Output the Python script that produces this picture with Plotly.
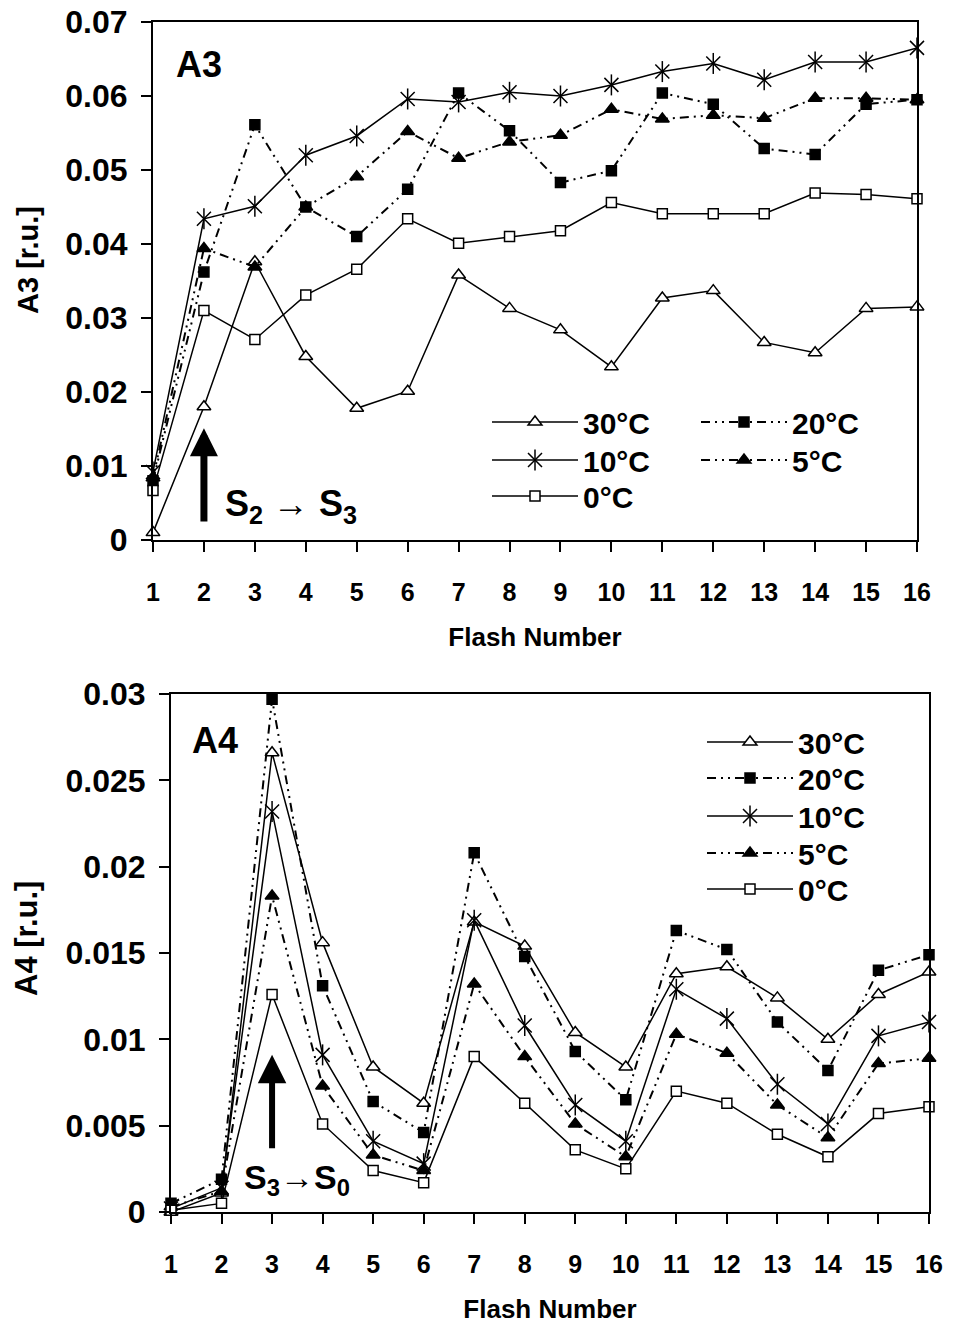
import plotly.graph_objects as go

W, H = 954, 1324

flash = list(range(1, 17))
labels = ["30°C", "20°C", "10°C", "5°C", "0°C"]

a3_30 = [0.0010, 0.0180, 0.0376, 0.0248, 0.0178, 0.0201, 0.0358, 0.0313, 0.0284, 0.0234, 0.0327, 0.0337, 0.0267, 0.0253, 0.0313, 0.0315]
a3_20 = [0.0080, 0.0362, 0.0561, 0.0450, 0.0410, 0.0474, 0.0604, 0.0553, 0.0483, 0.0499, 0.0604, 0.0589, 0.0529, 0.0521, 0.0589, 0.0595]
a3_10 = [0.0092, 0.0434, 0.0451, 0.0520, 0.0546, 0.0596, 0.0592, 0.0605, 0.0600, 0.0615, 0.0633, 0.0644, 0.0622, 0.0646, 0.0646, 0.0665]
a3_5 = [0.0084, 0.0394, 0.0369, 0.0450, 0.0491, 0.0552, 0.0516, 0.0538, 0.0547, 0.0582, 0.0569, 0.0574, 0.0570, 0.0597, 0.0597, 0.0595]
a3_0 = [0.0067, 0.0310, 0.0271, 0.0331, 0.0366, 0.0434, 0.0401, 0.0410, 0.0418, 0.0456, 0.0441, 0.0441, 0.0441, 0.0469, 0.0467, 0.0461]

a4_30 = [0.0000, 0.0011, 0.0266, 0.0156, 0.0084, 0.0063, 0.0168, 0.0154, 0.0104, 0.0084, 0.0138, 0.0142, 0.0124, 0.0100, 0.0126, 0.0139]
a4_20 = [0.0005, 0.0019, 0.0297, 0.0131, 0.0064, 0.0046, 0.0208, 0.0148, 0.0093, 0.0065, 0.0163, 0.0152, 0.0110, 0.0082, 0.0140, 0.0149]
a4_10 = [0.0002, 0.0014, 0.0232, 0.0091, 0.0041, 0.0028, 0.0169, 0.0108, 0.0062, 0.0041, 0.0129, 0.0112, 0.0074, 0.0051, 0.0102, 0.0110]
a4_5 = [0.0003, 0.0012, 0.0183, 0.0073, 0.0033, 0.0024, 0.0132, 0.0090, 0.0051, 0.0032, 0.0103, 0.0092, 0.0062, 0.0043, 0.0086, 0.0089]
a4_0 = [0.0001, 0.0005, 0.0126, 0.0051, 0.0024, 0.0017, 0.0090, 0.0063, 0.0036, 0.0025, 0.0070, 0.0063, 0.0045, 0.0032, 0.0057, 0.0061]

a3_ticks = [0, 0.01, 0.02, 0.03, 0.04, 0.05, 0.06, 0.07]
a3_ticktext = ["0", "0.01", "0.02", "0.03", "0.04", "0.05", "0.06", "0.07"]
a4_ticks = [0, 0.005, 0.01, 0.015, 0.02, 0.025, 0.03]
a4_ticktext = ["0", "0.005", "0.01", "0.015", "0.02", "0.025", "0.03"]

FONT = "Liberation Sans, Arial, sans-serif"
DASH = "9px,5px,2px,5px,2px,5px"

styles = [
    dict(symbol="triangle-up", color="white", size=12, dash="solid", lw=1.5),
    dict(symbol="square", color="black", size=10, dash=DASH, lw=2),
    dict(symbol="x-thin", color="black", size=14, dash="solid", lw=1.5),
    dict(symbol="triangle-up", color="black", size=12, dash=DASH, lw=2),
    dict(symbol="square", color="white", size=10, dash="solid", lw=1.5),
]

# legend entry anchor positions (px): left edge, vertical centre
top_leg_pos = [(487, 422), (696, 422), (487, 460), (696, 460), (487, 496)]
bot_leg_pos = [(702, 742), (702, 778), (702, 816), (702, 853), (702, 889)]


def px_x(p):
    return p / W


def px_y(p):
    return 1 - p / H


legfont = dict(family=FONT, size=30, color="black", weight="bold")
legends = {}
fig = go.Figure()
counter = [0]


def new_legend(pos):
    counter[0] += 1
    key = "legend" if counter[0] == 1 else f"legend{counter[0]}"
    legends[key] = dict(
        xref="paper", yref="paper", x=px_x(pos[0]), y=px_y(pos[1]),
        xanchor="left", yanchor="middle", orientation="v",
        itemwidth=86, bgcolor="rgba(0,0,0,0)", borderwidth=0,
        tracegroupgap=0, font=legfont,
    )
    return key


def add_series(series, xa, ya, positions):
    for name, ys, st, pos in zip(labels, series, styles, positions):
        lg = new_legend(pos)
        fig.add_trace(go.Scatter(
            x=flash, y=ys, name=name, mode="lines+markers",
            xaxis=xa, yaxis=ya, legend=lg, cliponaxis=False,
            line=dict(color="black", width=st["lw"], dash=st["dash"]),
            marker=dict(symbol=st["symbol"], size=st["size"], color=st["color"],
                        line=dict(color="black", width=1.5)),
        ))
        if st["symbol"] == "x-thin":
            lg2 = new_legend(pos)
            fig.add_trace(go.Scatter(
                x=flash, y=ys, name=" ", mode="markers",
                xaxis=xa, yaxis=ya, legend=lg2, cliponaxis=False,
                marker=dict(symbol="line-ns", size=15, color="black",
                            line=dict(color="black", width=1.5)),
            ))


add_series([a3_30, a3_20, a3_10, a3_5, a3_0], "x", "y", top_leg_pos)
add_series([a4_30, a4_20, a4_10, a4_5, a4_0], "x2", "y2", bot_leg_pos)

xcommon = dict(
    range=[1, 16], tickvals=flash, ticktext=[str(v) for v in flash],
    showline=True, linecolor="black", linewidth=2, mirror=True,
    ticks="outside", ticklen=10, tickwidth=2, tickcolor="black",
    showgrid=False, zeroline=False, automargin=False,
    tickfont=dict(family=FONT, size=25, color="black", weight="bold"),
    ticklabelstandoff=19,
    title=dict(text="Flash Number", font=dict(family=FONT, size=26, color="black", weight="bold"), standoff=23),
)
ycommon = dict(
    showline=True, linecolor="black", linewidth=2, mirror=True,
    ticks="outside", ticklen=10, tickwidth=2, tickcolor="black",
    showgrid=False, zeroline=False, automargin=False,
    tickfont=dict(family=FONT, size=32, color="black", weight="bold"),
    ticklabelstandoff=7,
)

fig.update_layout(
    width=W, height=H, margin=dict(l=0, r=0, t=0, b=0, autoexpand=False),
    paper_bgcolor="white", plot_bgcolor="white",
    xaxis=dict(domain=[px_x(153), px_x(917)], anchor="y", **xcommon),
    yaxis=dict(domain=[px_y(540), px_y(22)], anchor="x", range=[0, 0.07],
               tickvals=a3_ticks, ticktext=a3_ticktext, **ycommon),
    xaxis2=dict(domain=[px_x(171), px_x(929)], anchor="y2", **xcommon),
    yaxis2=dict(domain=[px_y(1212), px_y(694)], anchor="x2", range=[0, 0.03],
                tickvals=a4_ticks, ticktext=a4_ticktext, **ycommon),
    showlegend=True,
    **legends,
)

# y-axis titles (placed like the reference, above the axis centre)
fig.add_annotation(xref="paper", yref="paper", x=px_x(28), y=px_y(260), text="A3 [r.u.]",
                   textangle=-90, showarrow=False, xanchor="center", yanchor="middle",
                   font=dict(family=FONT, size=29, color="black", weight="bold"))
fig.add_annotation(xref="paper", yref="paper", x=px_x(27), y=px_y(939), text="A4 [r.u.]",
                   textangle=-90, showarrow=False, xanchor="center", yanchor="middle",
                   font=dict(family=FONT, size=31, color="black", weight="bold"))

ann_font = dict(family=FONT, size=36, color="black", weight="bold")
fig.add_annotation(xref="x", yref="y", x=1.9, y=0.0643, text="A3", showarrow=False,
                   font=ann_font, xanchor="center", yanchor="middle")
fig.add_annotation(xref="x2", yref="y2", x=1.87, y=0.0273, text="A4", showarrow=False,
                   font=ann_font, xanchor="center", yanchor="middle")

fig.add_annotation(xref="x", yref="y", axref="x", ayref="y", x=2, y=0.0151, ax=2, ay=0.0023,
                   text="", showarrow=True, arrowhead=2, arrowwidth=7, arrowsize=0.8, arrowcolor="black")
fig.add_annotation(xref="x2", yref="y2", axref="x2", ayref="y2", x=3, y=0.0091, ax=3, ay=0.0036,
                   text="", showarrow=True, arrowhead=2, arrowwidth=6, arrowsize=0.95, arrowcolor="black")

fig.add_annotation(xref="x", yref="y", x=2.38, y=0.0046, text="S<sub>2</sub> → S<sub>3</sub>",
                   showarrow=False, font=ann_font, xanchor="left", yanchor="middle")
fig.add_annotation(xref="x2", yref="y2", x=2.4, y=0.0019, text="S<sub>3</sub>→S<sub>0</sub>",
                   showarrow=False, font=dict(family=FONT, size=34, color="black", weight="bold"),
                   xanchor="left", yanchor="middle")

fig.write_html("out.html")
